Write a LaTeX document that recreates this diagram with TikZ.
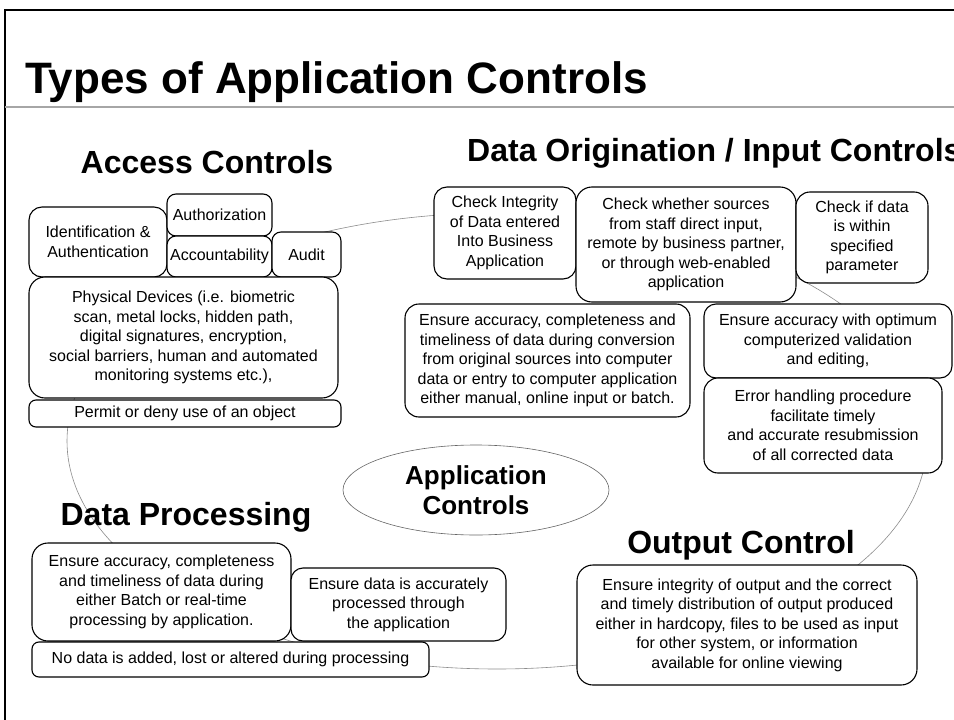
\documentclass[tikz,border=0pt]{standalone}
\usepackage{fontspec}
\setmainfont{Liberation Sans}
\usetikzlibrary{shapes.geometric}
\newcommand\bodyfont{\fontsize{16}{19.5}\selectfont}
\newcommand\headfont{\fontsize{32}{36}\selectfont\bfseries}
\newcommand\rbox[7]{\node[box, rounded corners=#6, minimum width={(#4-#2)*1pt}, minimum height={(#5-#3)*1pt}] (#1) at ({(#2+#4)/2},{(#3+#5)/2}) {#7};}
\tikzset{
  box/.style={draw=black, fill=white, line width=1.1pt, align=center, inner sep=0pt, font=\bodyfont},
  heading/.style={font=\headfont, inner sep=0pt},
  ring/.style={draw=black!45, line width=0.6pt},
}
\begin{document}
\begin{tikzpicture}[x=1pt,y=-1pt]
\useasboundingbox (0,0) rectangle (954,720);
\fill[white] (0,0) rectangle (954,720);
% frame
\draw[black, line width=2.2pt] (5,720) -- (5,10) -- (960,10);
\draw[black!35, line width=1.5pt] (5,107) -- (960,107);
% title
\node[anchor=base west, inner sep=0pt, font=\fontsize{44}{50}\selectfont\bfseries] (title) at (25,93) {Types of Application Controls};
% background ring
\draw[ring] (497,441) ellipse [x radius=430pt, y radius=228pt];
% headings
\node[heading] (hac) at (207,162) {Access Controls};
\node[heading, anchor=west] (hdo) at (467,153) {Data Origination / Input Controls};
\node[heading] (hdp) at (186,517) {Data Processing};
\node[heading] (hoc) at (741,545) {Output Control};
% center ellipse
\node[ellipse, draw=black!60, line width=0.6pt, minimum width=266pt, minimum height=90pt, inner sep=0pt, align=center, font=\fontsize{26}{30}\selectfont\bfseries] (app) at (476,490) {Application\\Controls};
% access controls
\rbox{ident}{29}{207}{167}{277}{13pt}{Identification \&\\Authentication}
\rbox{authz}{167}{194}{272}{236}{9pt}{Authorization}
\rbox{acct}{167}{236}{272}{277}{9pt}{Accountability}
\rbox{audit}{272}{232}{341}{277}{9pt}{Audit}
\rbox{phys}{29}{277}{338}{398}{16pt}{Physical Devices (i.e. biometric\\scan, metal locks, hidden path,\\digital signatures, encryption,\\social barriers, human and automated\\monitoring systems etc.),}
\rbox{permit}{29}{400}{341}{427}{7pt}{Permit or deny use of an object}
% data origination
\rbox{integ}{434}{187}{576}{279}{13pt}{Check Integrity\\of Data entered\\Into Business\\Application}
\rbox{whether}{576}{187}{796}{302}{16pt}{Check whether sources\\from staff direct input,\\remote by business partner,\\or through web-enabled\\application}
\rbox{within}{796}{192}{928}{283}{14pt}{Check if data\\is within\\specified\\parameter}
\rbox{conv}{405}{304}{690}{417}{14pt}{Ensure accuracy, completeness and\\timeliness of data during conversion\\from original sources into computer\\data or entry to computer application\\either manual, online input or batch.}
\rbox{valid}{704}{304}{952}{378}{12pt}{Ensure accuracy with optimum\\computerized validation\\and editing,}
\rbox{err}{704}{378}{942}{473}{14pt}{Error handling procedure\\facilitate timely\\and accurate resubmission\\of all corrected data}
% data processing
\rbox{dpacc}{32}{543}{291}{641}{16pt}{Ensure accuracy, completeness\\and timeliness of data during\\either Batch or real-time\\processing by application.}
\rbox{dpproc}{291}{568}{506}{641}{12pt}{Ensure data is accurately\\processed through\\the application}
\rbox{nodata}{32}{642}{429}{677}{7pt}{No data is added, lost or altered during processing}
% output control
\rbox{out}{577}{565}{917}{685}{16pt}{Ensure integrity of output and the correct\\and timely distribution of output produced\\either in hardcopy, files to be used as input\\for other system, or information\\available for online viewing}
\end{tikzpicture}
\end{document}
